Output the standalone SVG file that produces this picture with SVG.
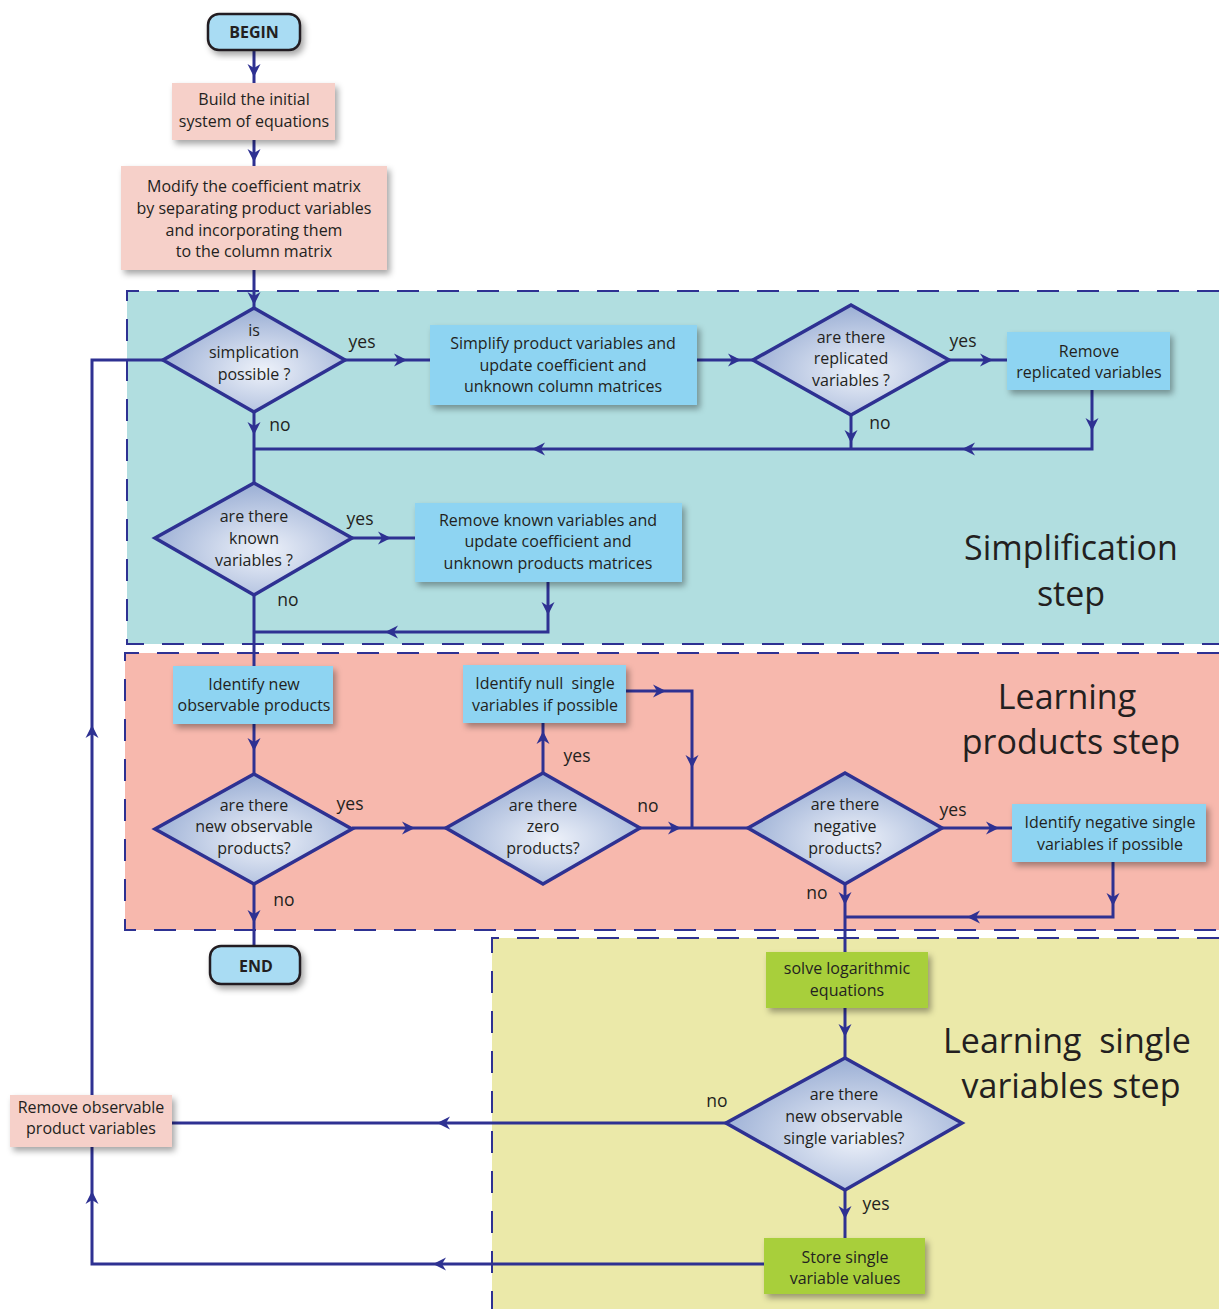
<svg xmlns="http://www.w3.org/2000/svg" xmlns:xlink="http://www.w3.org/1999/xlink" width="1219" height="1309" viewBox="0 0 1219 1309">
<style>
text{font-family:"Open Sans","Liberation Sans",sans-serif;fill:#231f20;text-anchor:middle}
.t{font-size:16px}
.lb{font-size:17.5px}
.ti{font-size:34px}
.b{font-weight:bold;font-size:16px}
.c{fill:none;stroke:#2e3192;stroke-width:3}
.reg{stroke:#2e3192;stroke-width:2;stroke-dasharray:22 18}
.bl{fill:#8ed4f2}
.pk{fill:#f6d0c9}
.gr{fill:#a8cf3a}
.dm{fill:url(#dg);stroke:#2e3192;stroke-width:3.5;stroke-linejoin:miter}
.tm{fill:#a9dcf3;stroke:#231f20;stroke-width:2.5}
</style>
<defs>
<radialGradient id="dg" cx="0.55" cy="0.6" r="0.6">
<stop offset="0" stop-color="#eef2fa"/>
<stop offset="1" stop-color="#9aaed4"/>
</radialGradient>
<filter id="sh" x="-10%" y="-10%" width="130%" height="140%">
<feDropShadow dx="3" dy="4" stdDeviation="3" flood-color="#000" flood-opacity="0.35"/>
</filter>
<path id="ah" d="M3,0 L-10,-6.5 L-6,0 L-10,6.5 Z" fill="#2e3192"/>
</defs>

<g id="regions">
<path d="M1219,291 L127,291 L127,644 L1219,644" fill="#b1dee0" class="reg"/>
<path d="M1219,653 L125,653 L125,930 L1219,930" fill="#f7b8ad" class="reg"/>
<path d="M1219,938 L492,938 L492,1309" fill="#ebe9a9" class="reg"/>
<rect x="493" y="939" width="726" height="370" fill="#ebe9a9"/>
<text class="ti" x="1071" y="560">Simplification</text>
<text class="ti" x="1071" y="606">step</text>
<text class="ti" x="1067" y="709">Learning</text>
<text class="ti" x="1071" y="754">products step</text>
<text class="ti" x="1067" y="1053" xml:space="preserve">Learning  single</text>
<text class="ti" x="1071" y="1098">variables step</text>
</g>

<g id="connectors">
<path class="c" d="M254,50 V83"/>
<path class="c" d="M254,140 V166"/>
<path class="c" d="M254,270 V308"/>
<path class="c" d="M345,360 H430"/>
<path class="c" d="M697,360 H753"/>
<path class="c" d="M949,360 H1007"/>
<path class="c" d="M1092,390 V449 H254"/>
<path class="c" d="M851,415 V449"/>
<path class="c" d="M254,412 V483"/>
<path class="c" d="M352,538 H415"/>
<path class="c" d="M548,582 V632 H254"/>
<path class="c" d="M254,595 V666"/>
<path class="c" d="M254,724 V774"/>
<path class="c" d="M352,828 H446"/>
<path class="c" d="M543,773 V723"/>
<path class="c" d="M626,691 H692 V828"/>
<path class="c" d="M640,828 H748"/>
<path class="c" d="M942,828 H1012"/>
<path class="c" d="M1113,862 V917 H845"/>
<path class="c" d="M845,884 V952"/>
<path class="c" d="M254,884 V946"/>
<path class="c" d="M845,1008 V1058"/>
<path class="c" d="M726,1123 H172"/>
<path class="c" d="M845,1190 V1238"/>
<path class="c" d="M764,1264 H92 V1147"/>
<path class="c" d="M92,1095 V360 H163"/>
<use xlink:href="#ah" transform="translate(254,74) rotate(90)"/>
<use xlink:href="#ah" transform="translate(254,159) rotate(90)"/>
<use xlink:href="#ah" transform="translate(254,302) rotate(90)"/>
<use xlink:href="#ah" transform="translate(404,360)"/>
<use xlink:href="#ah" transform="translate(738,360)"/>
<use xlink:href="#ah" transform="translate(990,360)"/>
<use xlink:href="#ah" transform="translate(1092,428) rotate(90)"/>
<use xlink:href="#ah" transform="translate(965,449) rotate(180)"/>
<use xlink:href="#ah" transform="translate(535,449) rotate(180)"/>
<use xlink:href="#ah" transform="translate(851,440) rotate(90)"/>
<use xlink:href="#ah" transform="translate(254,432) rotate(90)"/>
<use xlink:href="#ah" transform="translate(388,538)"/>
<use xlink:href="#ah" transform="translate(548,612) rotate(90)"/>
<use xlink:href="#ah" transform="translate(388,632) rotate(180)"/>
<use xlink:href="#ah" transform="translate(254,748) rotate(90)"/>
<use xlink:href="#ah" transform="translate(412,828)"/>
<use xlink:href="#ah" transform="translate(543,734) rotate(-90)"/>
<use xlink:href="#ah" transform="translate(663,691)"/>
<use xlink:href="#ah" transform="translate(692,765) rotate(90)"/>
<use xlink:href="#ah" transform="translate(678,828)"/>
<use xlink:href="#ah" transform="translate(996,828)"/>
<use xlink:href="#ah" transform="translate(1113,903) rotate(90)"/>
<use xlink:href="#ah" transform="translate(970,917) rotate(180)"/>
<use xlink:href="#ah" transform="translate(845,902) rotate(90)"/>
<use xlink:href="#ah" transform="translate(254,920) rotate(90)"/>
<use xlink:href="#ah" transform="translate(845,1034) rotate(90)"/>
<use xlink:href="#ah" transform="translate(440,1123) rotate(180)"/>
<use xlink:href="#ah" transform="translate(845,1216) rotate(90)"/>
<use xlink:href="#ah" transform="translate(436,1264) rotate(180)"/>
<use xlink:href="#ah" transform="translate(92,1194) rotate(-90)"/>
<use xlink:href="#ah" transform="translate(92,728) rotate(-90)"/>
<text class="lb" x="362" y="348">yes</text>
<text class="lb" x="280" y="431">no</text>
<text class="lb" x="963" y="347">yes</text>
<text class="lb" x="880" y="429">no</text>
<text class="lb" x="360" y="525">yes</text>
<text class="lb" x="288" y="606">no</text>
<text class="lb" x="350" y="810">yes</text>
<text class="lb" x="284" y="906">no</text>
<text class="lb" x="577" y="762">yes</text>
<text class="lb" x="648" y="812">no</text>
<text class="lb" x="953" y="816">yes</text>
<text class="lb" x="817" y="899">no</text>
<text class="lb" x="717" y="1107">no</text>
<text class="lb" x="876" y="1210">yes</text>
</g>

<g id="begin">
<rect class="tm" x="208" y="14" width="92" height="36" rx="11" filter="url(#sh)"/>
<text class="b" x="254" y="38">BEGIN</text>
</g>
<g id="build">
<rect class="pk" x="172" y="83" width="163" height="57" filter="url(#sh)"/>
<text class="t" x="254" y="105">Build the initial</text>
<text class="t" x="254" y="127">system of equations</text>
</g>
<g id="modify">
<rect class="pk" x="121" y="166" width="266" height="104" filter="url(#sh)"/>
<text class="t" x="254" y="192">Modify the coefficient matrix</text>
<text class="t" x="254" y="214">by separating product variables</text>
<text class="t" x="254" y="236">and incorporating them</text>
<text class="t" x="254" y="257">to the column matrix</text>
</g>
<g id="d1">
<path class="dm" d="M254,308 L345,360 L254,412 L163,360 Z"/>
<text class="t" x="254" y="336">is</text>
<text class="t" x="254" y="358">simplication</text>
<text class="t" x="254" y="380">possible ?</text>
</g>
<g id="simplify">
<rect class="bl" x="430" y="325" width="267" height="80" filter="url(#sh)"/>
<text class="t" x="563" y="349">Simplify product variables and</text>
<text class="t" x="563" y="371">update coefficient and</text>
<text class="t" x="563" y="392">unknown column matrices</text>
</g>
<g id="d2">
<path class="dm" d="M851,305 L949,360 L851,415 L753,360 Z"/>
<text class="t" x="851" y="343">are there</text>
<text class="t" x="851" y="364">replicated</text>
<text class="t" x="851" y="386">variables ?</text>
</g>
<g id="removerep">
<rect class="bl" x="1007" y="332" width="163" height="58" filter="url(#sh)"/>
<text class="t" x="1089" y="357">Remove</text>
<text class="t" x="1089" y="378">replicated variables</text>
</g>
<g id="d3">
<path class="dm" d="M254,483 L352,538 L254,595 L155,538 Z"/>
<text class="t" x="254" y="522">are there</text>
<text class="t" x="254" y="544">known</text>
<text class="t" x="254" y="566">variables ?</text>
</g>
<g id="removeknown">
<rect class="bl" x="415" y="503" width="267" height="79" filter="url(#sh)"/>
<text class="t" x="548" y="526">Remove known variables and</text>
<text class="t" x="548" y="547">update coefficient and</text>
<text class="t" x="548" y="569">unknown products matrices</text>
</g>
<g id="identnew">
<rect class="bl" x="173" y="666" width="160" height="58" filter="url(#sh)"/>
<text class="t" x="254" y="690">Identify new</text>
<text class="t" x="254" y="711">observable products</text>
</g>
<g id="d4">
<path class="dm" d="M254,774 L352,829 L254,884 L155,829 Z"/>
<text class="t" x="254" y="811">are there</text>
<text class="t" x="254" y="832">new observable</text>
<text class="t" x="254" y="854">products?</text>
</g>
<g id="d5">
<path class="dm" d="M543,773 L640,828 L543,884 L446,828 Z"/>
<text class="t" x="543" y="811">are there</text>
<text class="t" x="543" y="832">zero</text>
<text class="t" x="543" y="854">products?</text>
</g>
<g id="identnull">
<rect class="bl" x="463" y="665" width="163" height="58" filter="url(#sh)"/>
<text class="t" x="545" y="689" xml:space="preserve">Identify null  single</text>
<text class="t" x="545" y="711">variables if possible</text>
</g>
<g id="d6">
<path class="dm" d="M845,773 L942,828 L845,884 L748,828 Z"/>
<text class="t" x="845" y="810">are there</text>
<text class="t" x="845" y="832">negative</text>
<text class="t" x="845" y="854">products?</text>
</g>
<g id="identneg">
<rect class="bl" x="1012" y="804" width="194" height="58" filter="url(#sh)"/>
<text class="t" x="1110" y="828">Identify negative single</text>
<text class="t" x="1110" y="850">variables if possible</text>
</g>
<g id="end">
<rect class="tm" x="210" y="946" width="90" height="38" rx="11" filter="url(#sh)"/>
<text class="b" x="256" y="972">END</text>
</g>
<g id="solve">
<rect class="gr" x="766" y="952" width="162" height="56" filter="url(#sh)"/>
<text class="t" x="847" y="974">solve logarithmic</text>
<text class="t" x="847" y="996">equations</text>
</g>
<g id="d7">
<path class="dm" d="M845,1058 L962,1123 L845,1190 L726,1123 Z"/>
<text class="t" x="844" y="1100">are there</text>
<text class="t" x="844" y="1122">new observable</text>
<text class="t" x="844" y="1144">single variables?</text>
</g>
<g id="store">
<rect class="gr" x="764" y="1238" width="161" height="56" filter="url(#sh)"/>
<text class="t" x="845" y="1263">Store single</text>
<text class="t" x="845" y="1284">variable values</text>
</g>
<g id="removeobs">
<rect class="pk" x="10" y="1095" width="162" height="52" filter="url(#sh)"/>
<text class="t" x="91" y="1113">Remove observable</text>
<text class="t" x="91" y="1134">product variables</text>
</g>
</svg>
